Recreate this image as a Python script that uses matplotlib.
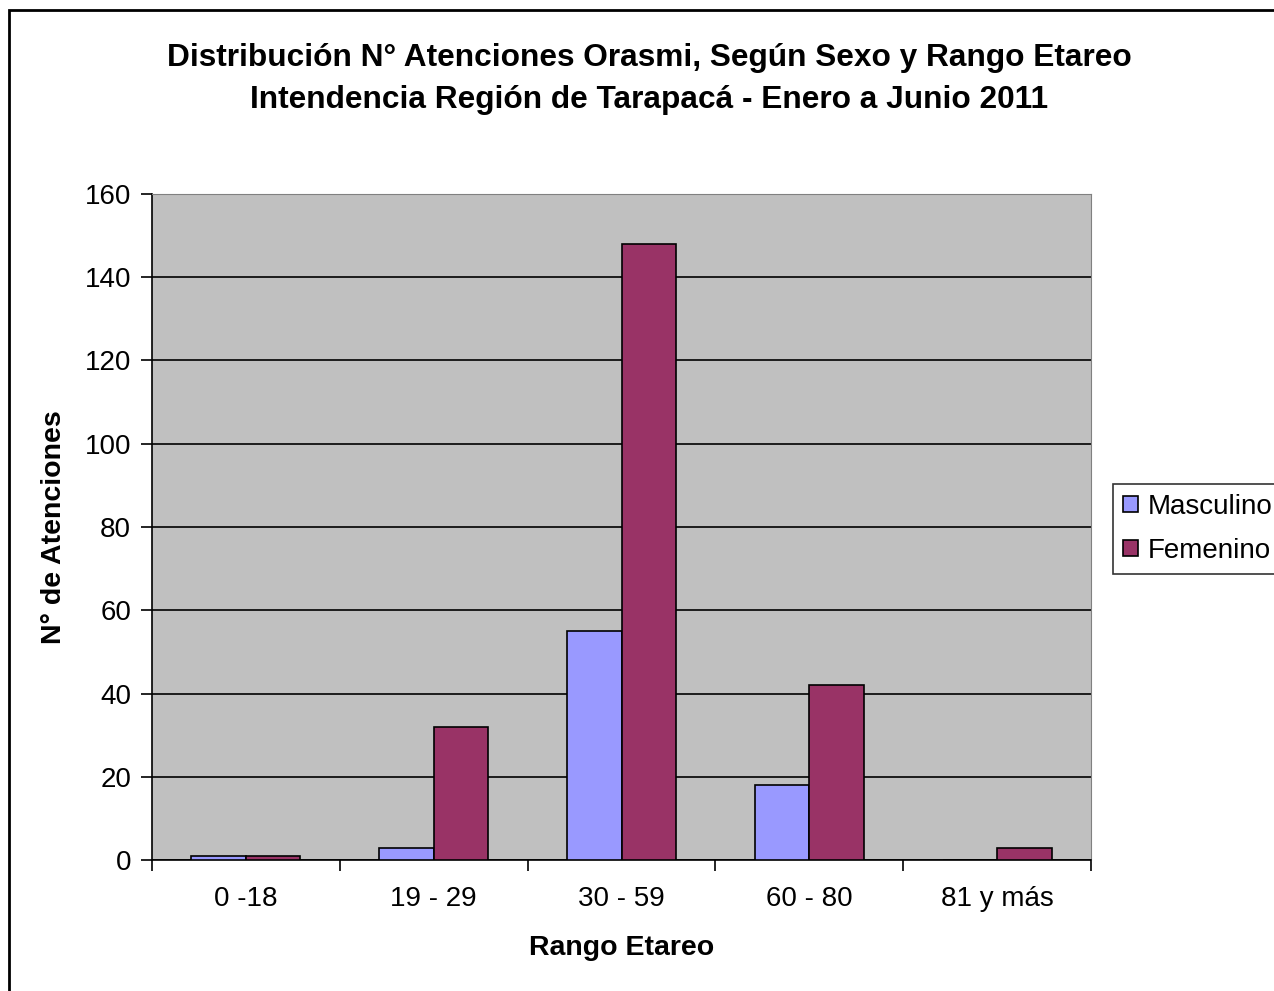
import numpy as np
import matplotlib
matplotlib.use("Agg")
import matplotlib.pyplot as plt
from matplotlib.patches import Rectangle

plt.rcParams['font.family'] = ['Liberation Sans', 'DejaVu Sans']

# data
rangos = ['0 -18', '19 - 29', '30 - 59', '60 - 80', '81 y más']
masculino = [1, 3, 55, 18, 0]
femenino = [1, 32, 148, 42, 3]

fig = plt.figure(figsize=(12.74, 9.91), dpi=100)

# outer chart frame (runs off the right/bottom edge like the original)
fig.patches.append(Rectangle((9 / 1274, -0.05), 1.2, 1 - 10 / 991 + 0.05,
                             transform=fig.transFigure, fill=False,
                             edgecolor='black', linewidth=2))

ax = fig.add_axes([152 / 1274, 1 - 860 / 991, (1091 - 152) / 1274, (860 - 194) / 991])
ax.set_facecolor('#C0C0C0')

x = np.arange(len(rangos))
w = 0.29
ax.bar(x - w / 2, masculino, w, color='#9999FF', edgecolor='black', linewidth=1.2,
       label='Masculino', zorder=3)
ax.bar(x + w / 2, femenino, w, color='#993366', edgecolor='black', linewidth=1.2,
       label='Femenino', zorder=3)

ax.set_xlim(-0.5, len(rangos) - 0.5)
ax.set_ylim(0, 160)
ax.set_yticks(range(0, 161, 20))
ax.yaxis.grid(True, color='black', linewidth=1.2, zorder=1)
ax.set_axisbelow(True)

# category labels centred, tick marks on the boundaries
ax.set_xticks(x)
ax.set_xticklabels(rangos)
ax.set_xticks(np.arange(-0.5, len(rangos), 1), minor=True)
ax.tick_params(axis='x', which='major', length=0, pad=18.5, labelsize=20)
ax.tick_params(axis='x', which='minor', length=8, width=1.2, direction='out')
ax.tick_params(axis='y', length=8, width=1.2, direction='out', labelsize=20, pad=7)

for s in ['top', 'right']:
    ax.spines[s].set_color('#808080')
ax.spines['left'].set_linewidth(1.2)
ax.spines['bottom'].set_linewidth(1.2)

ax.set_xlabel('Rango Etareo', fontsize=20.5, fontweight='bold', labelpad=17)
ax.set_ylabel('N° de Atenciones', fontsize=20.5, fontweight='bold', labelpad=13)

fig.text(649 / 1274, 1 - 79 / 991,
         'Distribución N° Atenciones Orasmi, Según Sexo y Rango Etareo\n'
         'Intendencia Región de Tarapacá - Enero a Junio 2011',
         ha='center', va='center', fontsize=22.8, fontweight='bold', linespacing=1.5)

leg = ax.legend(loc='upper left', bbox_to_anchor=(1113 / 1274, 1 - 484 / 991),
                bbox_transform=fig.transFigure, fontsize=20, frameon=True,
                fancybox=False, edgecolor='black', handlelength=0.55,
                handleheight=0.55, handletextpad=0.35, borderpad=0.35,
                labelspacing=0.65, borderaxespad=0)
leg.get_frame().set_linewidth(1.2)

fig.savefig('out.png', dpi=100)
